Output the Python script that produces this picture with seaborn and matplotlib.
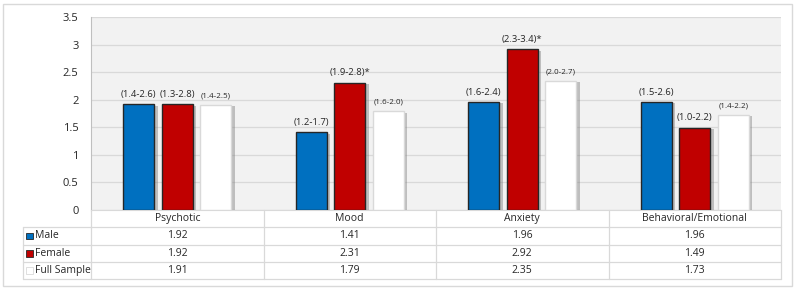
import numpy as np
import pandas as pd
import matplotlib
matplotlib.use("Agg")
import matplotlib.pyplot as plt
import matplotlib.patheffects as pe
from matplotlib.patches import Rectangle
from matplotlib.lines import Line2D
from matplotlib.ticker import MultipleLocator, FormatStrFormatter
import seaborn as sns

# ---------------------------------
# Data
# ---------------------------------

categories = ["Psychotic", "Mood", "Anxiety", "Behavioral/Emotional"]
groups = ["Male", "Female", "Full Sample"]

male = [1.92, 1.41, 1.96, 1.96]
female = [1.92, 2.31, 2.92, 1.49]
full_sample = [1.91, 1.79, 2.35, 1.73]

male_ci = ["(1.4-2.6)", "(1.2-1.7)", "(1.6-2.4)", "(1.5-2.6)"]
female_ci = ["(1.3-2.8)", "(1.9-2.8)*", "(2.3-3.4)*", "(1.0-2.2)"]
full_ci = ["(1.4-2.5)", "(1.6-2.0)", "(2.0-2.7)", "(1.4-2.2)"]

colors = {"Male": "#0070C0", "Female": "#C00000", "Full Sample": "#FFFFFF"}
edges = {"Male": "#262626", "Female": "#262626", "Full Sample": "#D9D9D9"}

df = pd.DataFrame({
    "category": categories * 3,
    "group": ["Male"] * 4 + ["Female"] * 4 + ["Full Sample"] * 4,
    "value": male + female + full_sample,
})

# ---------------------------------
# Figure
# ---------------------------------

sns.set_style("white")
plt.rcParams["font.family"] = ["Open Sans", "DejaVu Sans"]

W, H = 800, 291
fig = plt.figure(figsize=(8, 2.91), dpi=100)

x0, x1 = 91, 781
y_top, y_bot = 17.3, 210
ax = fig.add_axes([x0 / W, 1 - y_bot / H, (x1 - x0) / W, (y_bot - y_top) / H])
ax.set_facecolor("#F2F2F2")

sns.barplot(
    data=df, x="category", y="value", hue="group",
    hue_order=groups, palette=colors, width=0.67, gap=0.19,
    saturation=1, legend=False, ax=ax, zorder=3,
)

ax.set_xlim(-0.5, 3.5)
ax.set_ylim(0, 3.5)

ci_lists = [male_ci, female_ci, full_ci]
for gi, (cont, g) in enumerate(zip(ax.containers, groups)):
    for bi, bar in enumerate(cont):
        bar.set_edgecolor(edges[g])
        bar.set_linewidth(1.0)
        bar.set_path_effects([
            pe.SimplePatchShadow(offset=(2.5, -1), shadow_rgbFace="#7f7f7f", alpha=0.45),
            pe.Normal(),
        ])
        fs = 5.8 if g == "Full Sample" else 6.8
        ax.annotate(
            ci_lists[gi][bi],
            (bar.get_x() + bar.get_width() / 2, bar.get_height()),
            xytext=(0, 4), textcoords="offset points",
            ha="center", va="bottom", fontsize=fs, color="#262626",
        )

# gridlines and ticks
ax.yaxis.set_major_locator(MultipleLocator(0.5))
ax.yaxis.set_minor_locator(MultipleLocator(0.1))
ax.yaxis.set_major_formatter(FormatStrFormatter("%g"))
ax.grid(axis="y", color="#D9D9D9", linewidth=0.9, zorder=0)
ax.set_axisbelow(True)
ax.tick_params(axis="y", which="major", direction="in", length=3, color="#BFBFBF",
               labelsize=8, pad=9, labelcolor="#262626")
ax.tick_params(axis="y", which="minor", direction="in", length=2, color="#BFBFBF")
ax.tick_params(axis="x", bottom=False, labelbottom=False)
ax.set_xlabel("")
ax.set_ylabel("")
for s in ["top", "right"]:
    ax.spines[s].set_visible(False)
ax.spines["left"].set_color("#BFBFBF")
ax.spines["bottom"].set_color("#D9D9D9")

# ---------------------------------
# Data table under the chart
# ---------------------------------

def ya(py):
    return (y_bot - py) / (y_bot - y_top)

def xa(px):
    return (px - x0) / (x1 - x0)

line_c = "#D9D9D9"
row_lines = [226.7, 245, 262.3, 279.3]
row_centers = [236, 253.5, 270.8]
label_left = xa(23)

for py in row_lines:
    ax.add_line(Line2D([label_left, 1], [ya(py), ya(py)], transform=ax.transAxes,
                       color=line_c, linewidth=0.9, clip_on=False))
for xv in [0, 0.25, 0.5, 0.75, 1]:
    ax.add_line(Line2D([xv, xv], [0, ya(279.3)], transform=ax.transAxes,
                       color=line_c, linewidth=0.9, clip_on=False))
ax.add_line(Line2D([label_left, label_left], [ya(226.7), ya(279.3)], transform=ax.transAxes,
                   color=line_c, linewidth=0.9, clip_on=False))

for i, cat in enumerate(categories):
    ax.text((i + 0.5) / 4, ya(218.5), cat, transform=ax.transAxes,
            ha="center", va="center", fontsize=7.5, color="#262626")

table_vals = [male, female, full_sample]
for r, g in enumerate(groups):
    yc = ya(row_centers[r])
    ax.add_patch(Rectangle((xa(26), yc - 0.018), 7 / (x1 - x0), 0.036,
                           transform=ax.transAxes, facecolor=colors[g],
                           edgecolor=edges[g] if g != "Full Sample" else "#D9D9D9",
                           linewidth=0.6, clip_on=False))
    ax.text(xa(35), yc, g, transform=ax.transAxes, ha="left", va="center",
            fontsize=7.5, color="#262626")
    for i, v in enumerate(table_vals[r]):
        ax.text((i + 0.5) / 4, yc, f"{v:.2f}", transform=ax.transAxes,
                ha="center", va="center", fontsize=7.5, color="#262626")

# outer frame
fig.add_artist(Rectangle((3 / W, 1 - 286 / H), 789 / W, 282 / H, transform=fig.transFigure,
                         fill=False, edgecolor="#D9D9D9", linewidth=1.0))

fig.savefig("out.png", dpi=100)
